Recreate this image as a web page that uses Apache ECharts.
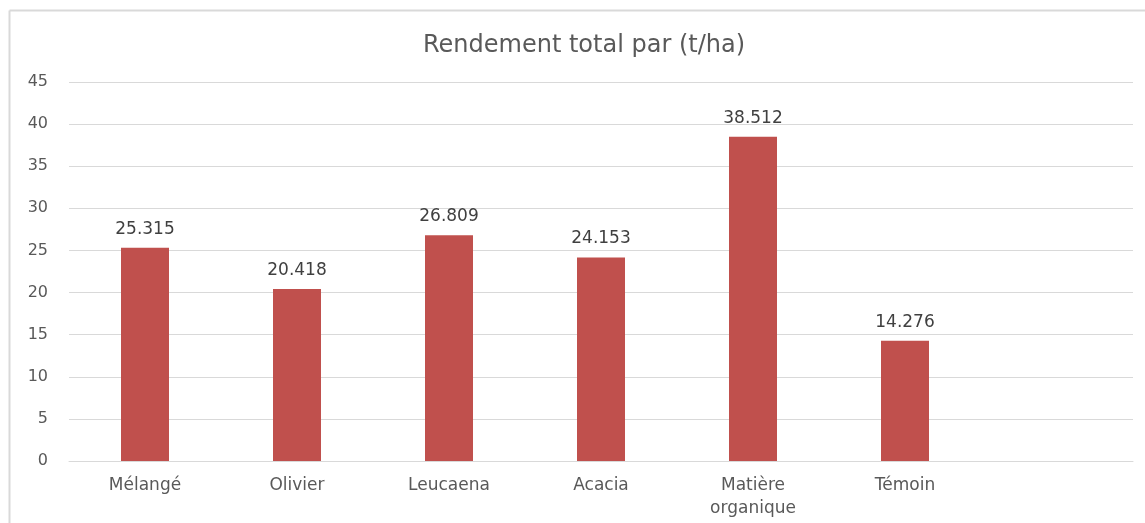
<!DOCTYPE html>
<html>
<head>
<meta charset="utf-8">
<script src="https://cdn.jsdelivr.net/npm/echarts@6/dist/echarts.min.js"></script>
<style>
  html, body { margin: 0; padding: 0; background: #fff; }
  #chart { width: 1145px; height: 523px; }
</style>
</head>
<body>
<div id="chart"></div>
<script>
// categories (last slot left empty, as in the original)
const categories = ['Mélangé', 'Olivier', 'Leucaena', 'Acacia', 'Matière\norganique', 'Témoin', ''];
const rendement = [25.315, 20.418, 26.809, 24.153, 38.512, 14.276, null];
const yTicks = [0, 5, 10, 15, 20, 25, 30, 35, 40, 45];

const textGray = '#595959';
const font = '"DejaVu Sans", "Open Sans", sans-serif';

let myChart = echarts.init(document.getElementById('chart'));

let option = {
    animation: false,
    textStyle: { fontFamily: font },
    title: {
        text: 'Rendement total par (t/ha)',
        left: 579,
        top: 29,
        textAlign: 'center',
        textStyle: { fontFamily: font, fontSize: 24, fontWeight: 'normal', color: textGray }
    },
    graphic: [
        // chart frame (top and left edges only visible)
        { type: 'line', shape: { x1: 9.5, y1: 10.5, x2: 1145, y2: 10.5 }, style: { stroke: '#d9d9d9', lineWidth: 2 } },
        { type: 'line', shape: { x1: 9.5, y1: 10.5, x2: 9.5, y2: 523 }, style: { stroke: '#d9d9d9', lineWidth: 2 } }
    ],
    grid: { left: 69, right: 12, top: 82, bottom: 62 },
    xAxis: {
        type: 'category',
        data: categories,
        axisTick: { show: false },
        axisLine: { lineStyle: { color: '#d9d9d9', width: 1 } },
        axisLabel: {
            color: textGray, fontSize: 17, margin: 13, lineHeight: 23,
            interval: 0, fontFamily: font
        }
    },
    yAxis: {
        type: 'value',
        min: yTicks[0],
        max: yTicks[yTicks.length - 1],
        interval: 5,
        axisLine: { show: false },
        axisTick: { show: false },
        splitLine: { lineStyle: { color: '#d9d9d9', width: 1 } },
        axisLabel: { color: textGray, fontSize: 16, margin: 21, fontFamily: font }
    },
    series: [
        {
            name: 'Rendement',
            type: 'bar',
            data: rendement,
            barWidth: 48,
            itemStyle: { color: '#C0504D' },
            label: {
                show: true,
                position: 'top',
                distance: 10,
                color: '#404040',
                fontSize: 17,
                fontFamily: font,
                formatter: p => p.value.toFixed(3)
            }
        }
    ]
};

myChart.setOption(option);
</script>
</body>
</html>
